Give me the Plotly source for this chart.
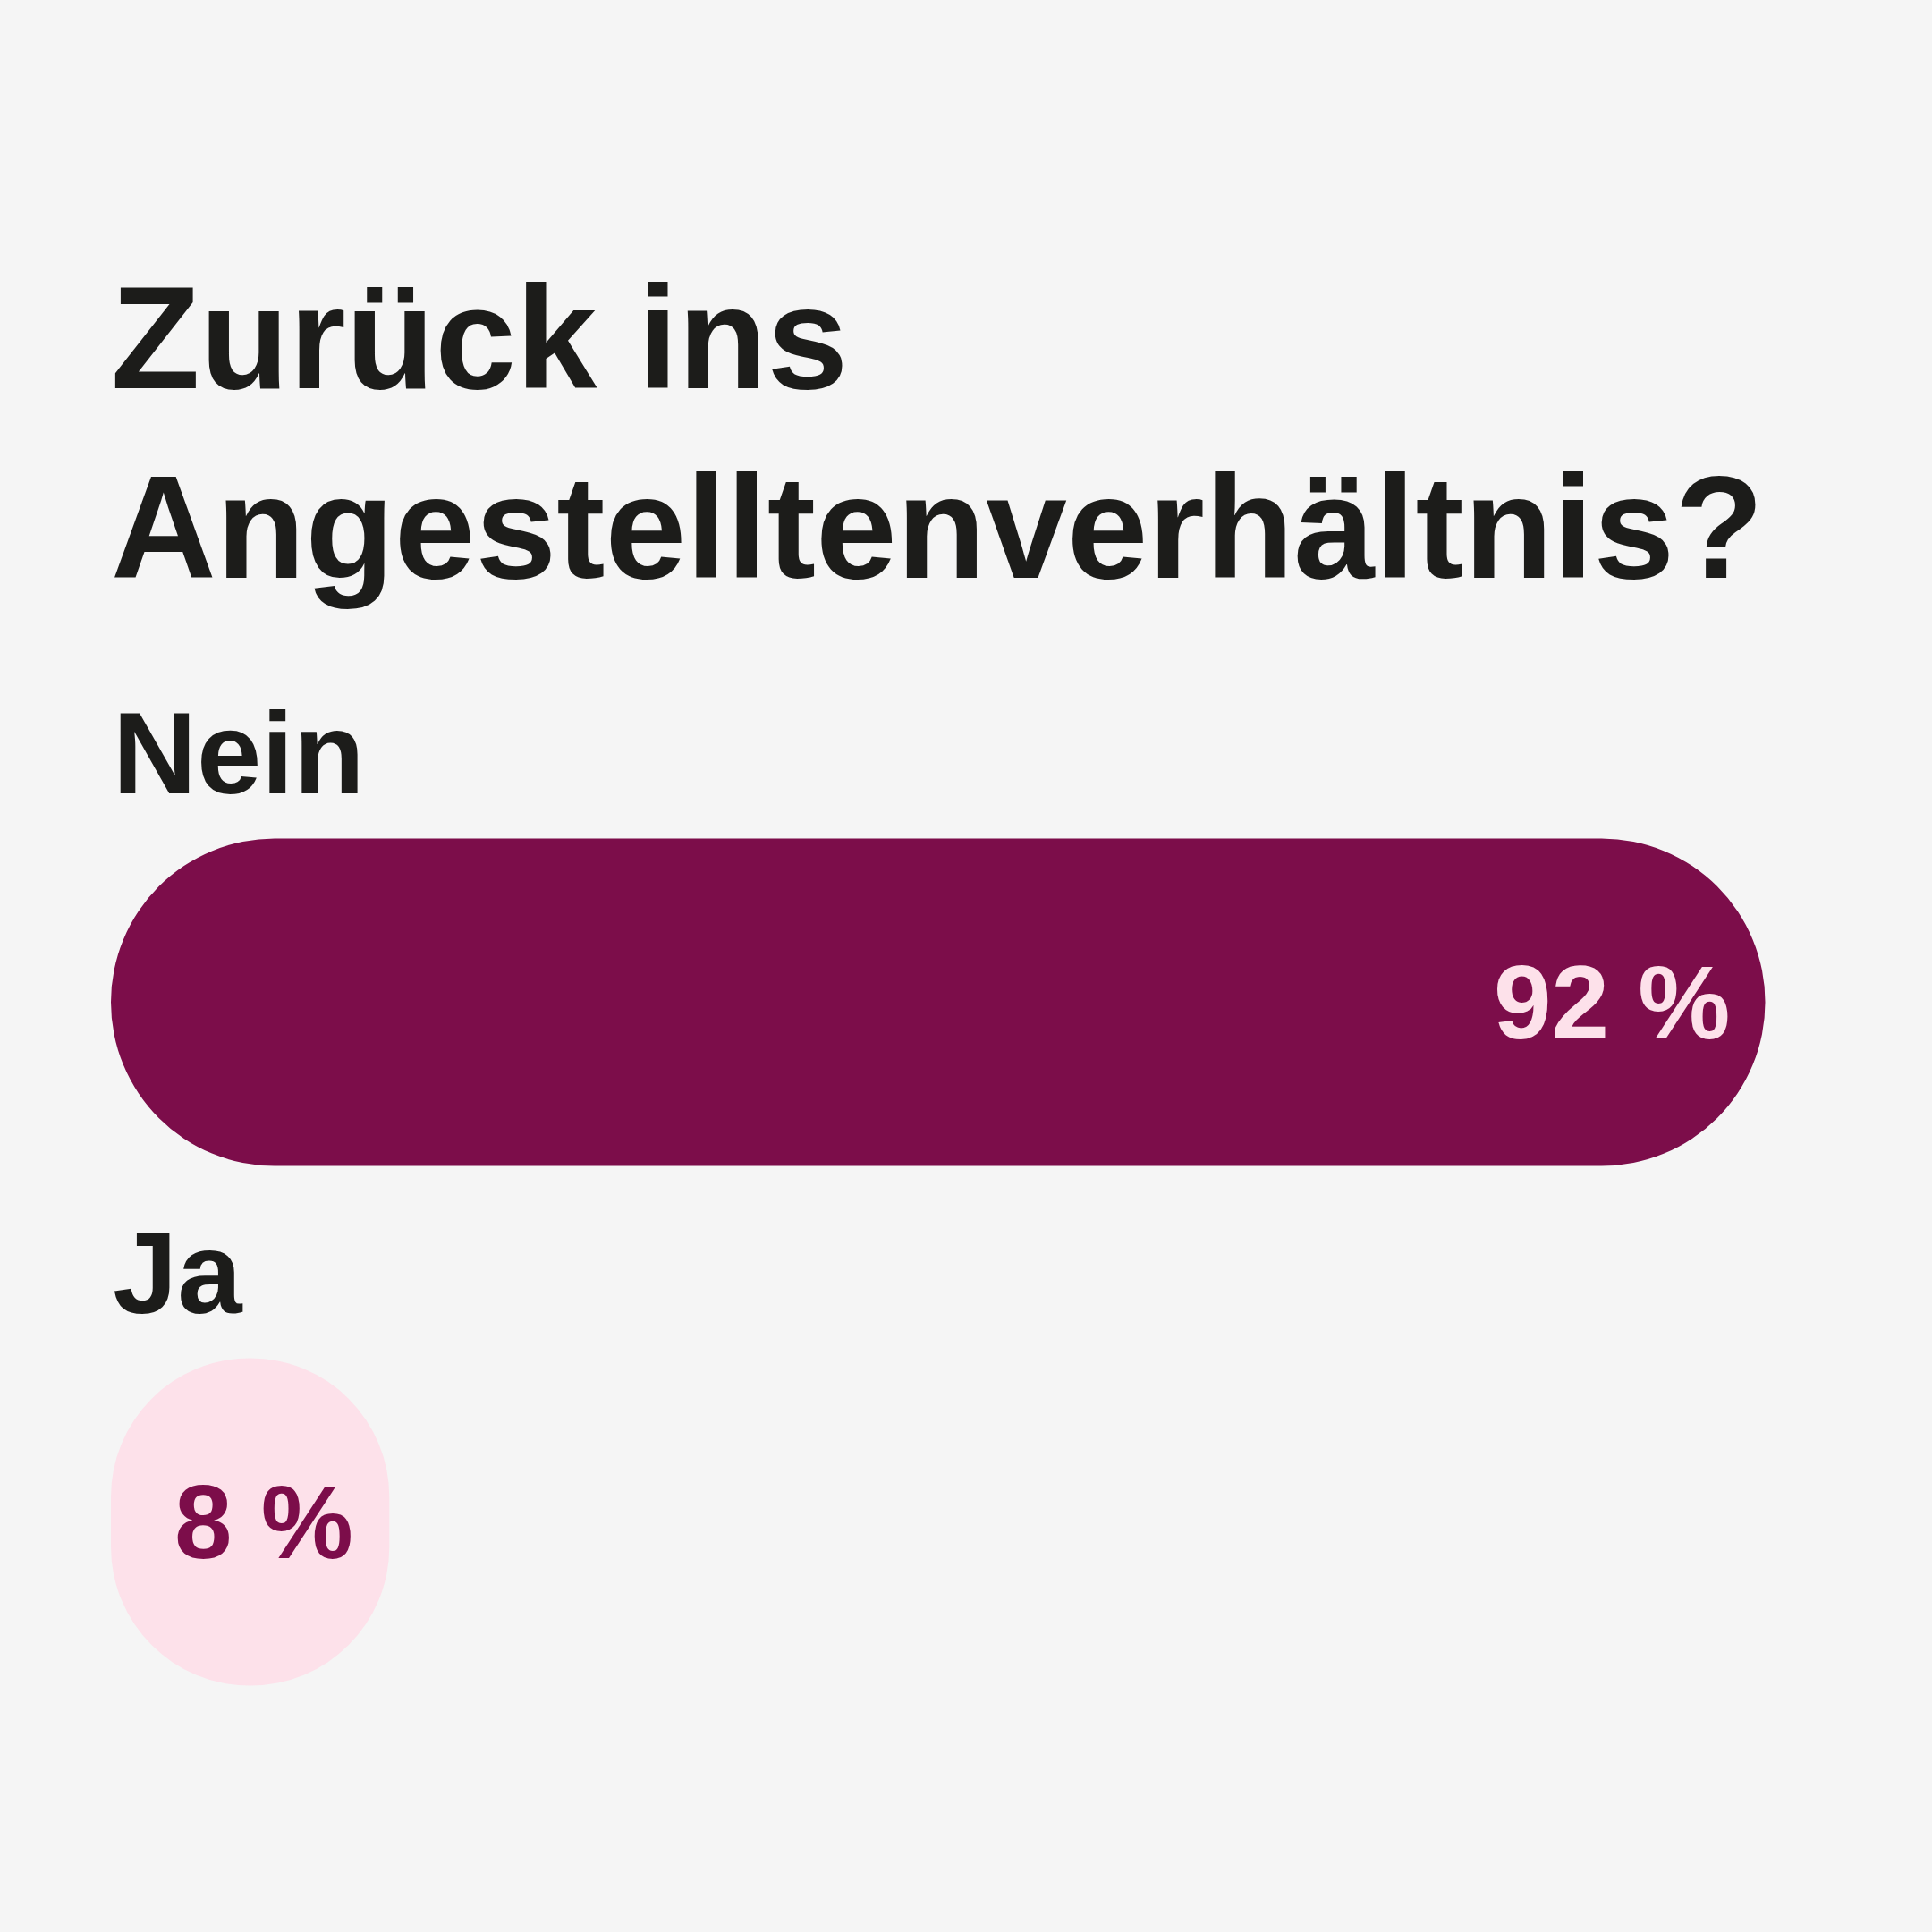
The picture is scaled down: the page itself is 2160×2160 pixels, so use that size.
import plotly.graph_objects as go

# ---- data ----
TITLE_LINES = ["Zurück ins", "Angestelltenverhältnis?"]
CATEGORIES = ["Nein", "Ja"]
VALUES = [92, 8]
VALUE_LABELS = ["92 %", "8 %"]

# ---- style ----
BG = "#f5f5f5"
INK = "#1c1c1a"
BAR_COLORS = ["#7c0d4a", "#fde1ea"]
LABEL_COLORS = ["#fde1ea", "#7c0d4a"]
CORNER = ["50%", 156]
BAR_PAD = 9  # visual lead-in of each pill (value units)
FONT = "Liberation Sans, Arial, sans-serif"

fig = go.Figure()
for cat, val, col, cr in zip(CATEGORIES, VALUES, BAR_COLORS, CORNER):
    fig.add_trace(go.Bar(
        y=[cat], x=[val + BAR_PAD], base=[-BAR_PAD], orientation="h",
        width=0.63,
        marker=dict(color=col, cornerradius=cr, line=dict(width=0)),
        showlegend=False, hoverinfo="skip",
    ))

# value labels at the end of each bar
for cat, val, lab, tcol in zip(CATEGORIES, VALUES, VALUE_LABELS, LABEL_COLORS):
    fig.add_annotation(
        x=val, xref="x", xanchor="right", xshift=-38,
        y=cat, yref="y", yanchor="middle",
        text=lab, showarrow=False,
        font=dict(family=FONT, size=116, color=tcol, weight="bold"),
    )

# category labels above each bar
for cat in CATEGORIES:
    fig.add_annotation(
        x=0, xref="paper", xanchor="left",
        y=cat, yref="y", yanchor="middle", yshift=279,
        text=cat, showarrow=False,
        font=dict(family=FONT, size=130, color=INK, weight="bold"),
    )

fig.update_layout(
    width=2160, height=2160,
    paper_bgcolor=BG, plot_bgcolor=BG,
    margin=dict(l=124, r=40, t=830, b=168),
    barmode="overlay",
    title=dict(
        text="<br>".join(TITLE_LINES),
        x=0, xref="paper", xanchor="left",
        y=1 - 434 / 2160, yref="container", yanchor="top",
        font=dict(family=FONT, size=163, color=INK, weight="bold"),
    ),
    xaxis=dict(range=[-BAR_PAD, 100], visible=False, fixedrange=True),
    yaxis=dict(categoryorder="array", categoryarray=CATEGORIES,
               range=[1.5, -0.5], visible=False, fixedrange=True),
)

fig.write_html("out.html",
               config={"displayModeBar": False},
               post_script="document.body.style.margin='0';document.body.style.background='%s';" % BG)
